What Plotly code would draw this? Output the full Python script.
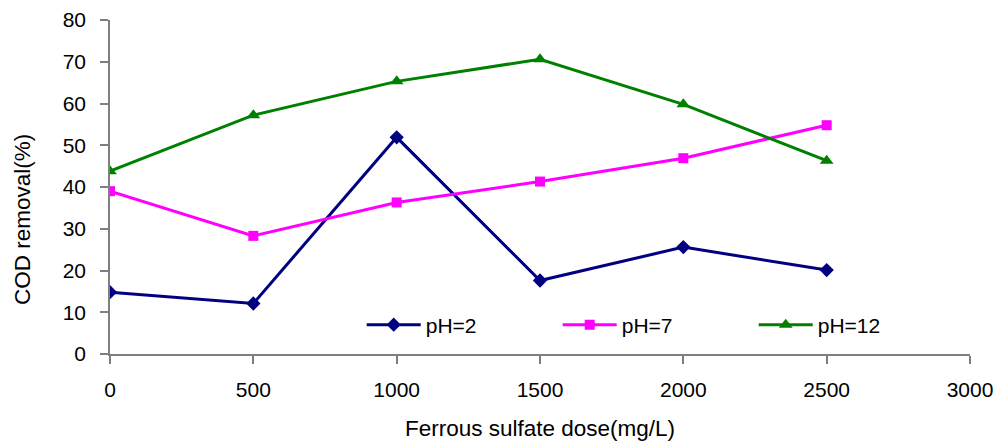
import plotly.graph_objects as go

dose = [0, 500, 1000, 1500, 2000, 2500]
ph2 = [14.8, 12.1, 51.9, 17.6, 25.6, 20.1]
ph7 = [39.0, 28.3, 36.3, 41.3, 46.9, 54.8]
ph12 = [43.8, 57.2, 65.3, 70.6, 59.8, 46.3]

x_ticks = [0, 500, 1000, 1500, 2000, 2500, 3000]
y_ticks = [0, 10, 20, 30, 40, 50, 60, 70, 80]

series = [
    ("pH=2", ph2, "#000080", "diamond", 11),
    ("pH=7", ph7, "#FF00FF", "square", 10),
    ("pH=12", ph12, "#008000", "triangle-up", 12),
]

FONT = "Liberation Sans, Arial, sans-serif"

fig = go.Figure()
for name, vals, col, sym, sz in series:
    fig.add_trace(go.Scatter(
        x=dose, y=vals, name=name, mode="lines+markers",
        line=dict(color=col, width=3),
        marker=dict(symbol=sym, size=sz, color=col),
    ))

axis_common = dict(
    showgrid=False, zeroline=False, showline=True, linecolor="#7f7f7f", linewidth=1.5,
    ticks="outside", ticklen=8, tickcolor="#7f7f7f", tickwidth=1.5,
    tickfont=dict(size=21, family=FONT, color="black"),
    automargin=False,
)

fig.update_layout(
    width=1001, height=442,
    margin=dict(l=110, r=31, t=20, b=88),
    paper_bgcolor="white", plot_bgcolor="white",
    font=dict(family=FONT, size=21, color="black"),
    showlegend=True,
    legend=dict(
        orientation="h", x=0.2927, y=0.0868, xanchor="left", yanchor="middle",
        entrywidth=127, entrywidthmode="pixels",
        itemwidth=54, borderwidth=0,
        bgcolor="rgba(0,0,0,0)", font=dict(size=21, family=FONT),
    ),
    xaxis=dict(
        range=[0, 3000], tickvals=x_ticks, ticklabelstandoff=8,
        title=dict(text="Ferrous sulfate dose(mg/L)", standoff=20, font=dict(size=22.5)),
        **axis_common,
    ),
    yaxis=dict(
        range=[0, 80], tickvals=y_ticks, ticklabelstandoff=10,
        **axis_common,
    ),
    annotations=[dict(
        text="COD removal(%)", textangle=-90, showarrow=False,
        xref="paper", yref="paper",
        x=(22 - 110) / 861, y=(354 - 220) / 334,
        xanchor="center", yanchor="middle",
        font=dict(size=22.5, family=FONT, color="black"),
    )],
)

fig.write_html("out.html")
